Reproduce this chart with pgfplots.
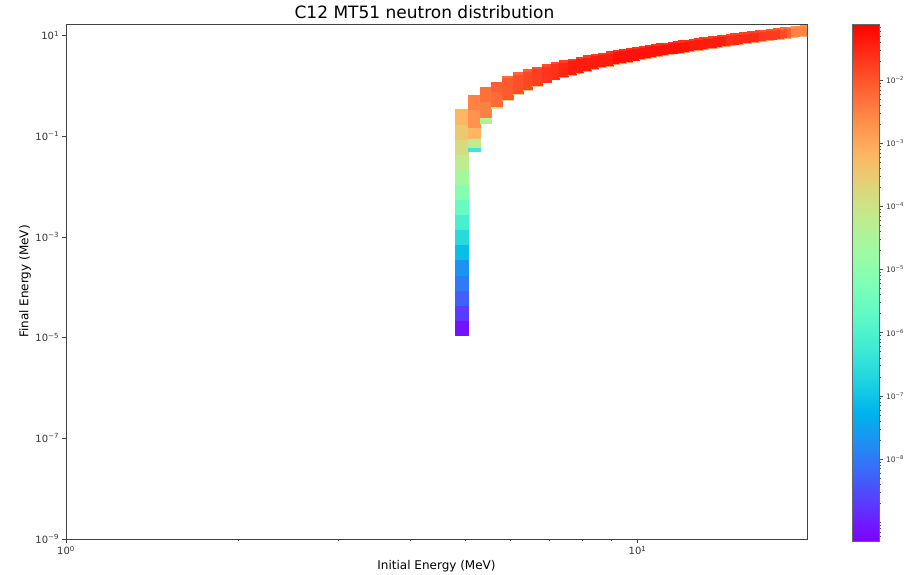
\documentclass[border=0pt]{standalone}
\usepackage{pgfplots}
\pgfplotsset{compat=1.18}
\usepackage{fontspec}
\setmainfont{DejaVu Sans}
\pgfplotsset{colormap={mplrainbow}{rgb=(0.5,0,1) rgb=(0.375,0.195,0.995) rgb=(0.25,0.383,0.981) rgb=(0.125,0.556,0.957) rgb=(0,0.707,0.924) rgb=(0.125,0.831,0.882) rgb=(0.25,0.924,0.831) rgb=(0.375,0.981,0.773) rgb=(0.5,1,0.707) rgb=(0.625,0.981,0.634) rgb=(0.75,0.924,0.556) rgb=(0.875,0.831,0.471) rgb=(1,0.707,0.383) rgb=(1,0.556,0.290) rgb=(1,0.383,0.195) rgb=(1,0.195,0.098) rgb=(1,0,0)}}
\newcommand{\tp}[1]{10\textsuperscript{#1}}
\begin{document}
\begin{tikzpicture}
\useasboundingbox (-66pt,-35pt) rectangle (848pt,539pt);
\begin{axis}[
  at={(0,0)}, anchor=south west, scale only axis, width=741pt, height=515pt,
  xmode=log, ymode=log, xmin=1, xmax=19.8, ymin=1e-9, ymax=17,
  colormap name=mplrainbow, point meta min=-9.3, point meta max=-1.11,
  xtick={1,10}, xticklabels={\tp{0},\tp{1}}, minor xtick={2,3,4,5,6,7,8,9},
  ytick={1e-9,1e-7,1e-5,1e-3,1e-1,10},
  yticklabels={\tp{−9},\tp{−7},\tp{−5},\tp{−3},\tp{−1},\tp{1}},
  tick align=outside, xtick pos=bottom, ytick pos=left,
  major tick length=3.5pt, minor tick length=2pt,
  axis line style={black!75, line width=0.8pt},
  every tick/.style={black!75, line width=0.6pt},
  ticklabel style={font=\fontsize{10}{12}\selectfont, text=black!80},
  title={C12 MT51 neutron distribution},
  title style={font=\fontsize{17}{20}\selectfont, at={(axis description cs:0.5,1)}, anchor=south, yshift=-4pt, xshift=-12pt},
  xlabel={Initial Energy (MeV)},
  xlabel style={font=\fontsize{12}{14}\selectfont, at={(axis description cs:0.5,-0.0525)}, anchor=center},
  ylabel={Final Energy (MeV)},
  ylabel style={font=\fontsize{12}{14}\selectfont, at={(axis description cs:-0.0553,0.5)}, anchor=center},
  colorbar,
  colorbar/width=27pt,
  colorbar style={at={(parent axis.north east)}, anchor=north west, xshift=36.5pt,
    scale only axis, width=27pt, height=517pt,
    ytick={-8,-7,-6,-5,-4,-3,-2},
    yticklabels={\tp{−8},\tp{−7},\tp{−6},\tp{−5},\tp{−4},\tp{−3},\tp{−2}},
    minor ytick={-9.222,-9.155,-9.097,-9.046,-9,
      -8.699,-8.523,-8.398,-8.301,-8.222,-8.155,-8.097,-8.046,
      -7.699,-7.523,-7.398,-7.301,-7.222,-7.155,-7.097,-7.046,
      -6.699,-6.523,-6.398,-6.301,-6.222,-6.155,-6.097,-6.046,
      -5.699,-5.523,-5.398,-5.301,-5.222,-5.155,-5.097,-5.046,
      -4.699,-4.523,-4.398,-4.301,-4.222,-4.155,-4.097,-4.046,
      -3.699,-3.523,-3.398,-3.301,-3.222,-3.155,-3.097,-3.046,
      -2.699,-2.523,-2.398,-2.301,-2.222,-2.155,-2.097,-2.046,
      -1.699,-1.523,-1.398,-1.301,-1.222,-1.155},
    ytick pos=right, yticklabel pos=right, tick align=outside,
    major tick length=3.5pt, minor tick length=2pt,
    axis line style={black!60, line width=0.6pt},
    every tick/.style={black!70, line width=0.5pt},
    ticklabel style={font=\fontsize{7.5}{9}\selectfont, text=black!80}},
]
\addplot[patch, patch type=rectangle, shader=flat, point meta=explicit]
table[row sep=\\, meta=c] {
x y c\\
4.80 1.122e-5 -9.1\\ 5.05 1.122e-5 -9.1\\ 5.05 2.239e-5 -9.1\\ 4.80 2.239e-5 -9.1\\
4.80 2.239e-5 -8.7\\ 5.05 2.239e-5 -8.7\\ 5.05 4.467e-5 -8.7\\ 4.80 4.467e-5 -8.7\\
4.80 4.467e-5 -8.3\\ 5.05 4.467e-5 -8.3\\ 5.05 8.913e-5 -8.3\\ 4.80 8.913e-5 -8.3\\
4.80 8.913e-5 -8.0\\ 5.05 8.913e-5 -8.0\\ 5.05 1.778e-4 -8.0\\ 4.80 1.778e-4 -8.0\\
4.80 1.778e-4 -7.7\\ 5.05 1.778e-4 -7.7\\ 5.05 3.548e-4 -7.7\\ 4.80 3.548e-4 -7.7\\
4.80 3.548e-4 -7.1\\ 5.05 3.548e-4 -7.1\\ 5.05 7.079e-4 -7.1\\ 4.80 7.079e-4 -7.1\\
4.80 7.079e-4 -6.6\\ 5.05 7.079e-4 -6.6\\ 5.05 1.413e-3 -6.6\\ 4.80 1.413e-3 -6.6\\
4.80 1.413e-3 -6.1\\ 5.05 1.413e-3 -6.1\\ 5.05 2.818e-3 -6.1\\ 4.80 2.818e-3 -6.1\\
4.80 2.818e-3 -5.6\\ 5.05 2.818e-3 -5.6\\ 5.05 5.623e-3 -5.6\\ 4.80 5.623e-3 -5.6\\
4.80 5.623e-3 -5.1\\ 5.05 5.623e-3 -5.1\\ 5.05 1.122e-2 -5.1\\ 4.80 1.122e-2 -5.1\\
4.80 1.122e-2 -4.6\\ 5.05 1.122e-2 -4.6\\ 5.05 2.239e-2 -4.6\\ 4.80 2.239e-2 -4.6\\
4.80 2.239e-2 -4.2\\ 5.05 2.239e-2 -4.2\\ 5.05 4.467e-2 -4.2\\ 4.80 4.467e-2 -4.2\\
4.80 4.467e-2 -3.8\\ 5.05 4.467e-2 -3.8\\ 5.05 8.913e-2 -3.8\\ 4.80 8.913e-2 -3.8\\
4.80 8.913e-2 -3.5\\ 5.05 8.913e-2 -3.5\\ 5.05 0.1778 -3.5\\ 4.80 0.1778 -3.5\\
4.80 0.1778 -3.2\\ 5.05 0.1778 -3.2\\ 5.05 0.339 -3.2\\ 4.80 0.339 -3.2\\
5.05 0.050 -6.3\\ 5.30 0.050 -6.3\\ 5.30 0.060 -6.3\\ 5.05 0.060 -6.3\\
5.05 0.060 -4.2\\ 5.30 0.060 -4.2\\ 5.30 0.090 -4.2\\ 5.05 0.090 -4.2\\
5.05 0.090 -3.2\\ 5.30 0.090 -3.2\\ 5.30 0.150 -3.2\\ 5.05 0.150 -3.2\\
5.05 0.150 -2.7\\ 5.30 0.150 -2.7\\ 5.30 0.350 -2.7\\ 5.05 0.350 -2.7\\
5.05 0.350 -2.5\\ 5.30 0.350 -2.5\\ 5.30 0.660 -2.5\\ 5.05 0.660 -2.5\\
5.30 0.180 -4.4\\ 5.55 0.180 -4.4\\ 5.55 0.235 -4.4\\ 5.30 0.235 -4.4\\
5.30 0.235 -2.5\\ 5.55 0.235 -2.5\\ 5.55 0.500 -2.5\\ 5.30 0.500 -2.5\\
5.30 0.500 -2.3\\ 5.55 0.500 -2.3\\ 5.55 0.940 -2.3\\ 5.30 0.940 -2.3\\
5.55 0.356 -4.3\\ 5.80 0.356 -4.3\\ 5.80 0.390 -4.3\\ 5.55 0.390 -4.3\\
5.55 0.390 -2.25\\ 5.80 0.390 -2.25\\ 5.80 0.800 -2.25\\ 5.55 0.800 -2.25\\
5.55 0.800 -2.1\\ 5.80 0.800 -2.1\\ 5.80 1.200 -2.1\\ 5.55 1.200 -2.1\\
5.80 0.516 -3.8\\ 6.05 0.516 -3.8\\ 6.05 0.5375 -3.8\\ 5.80 0.5375 -3.8\\
5.80 0.5375 -2.05\\ 6.05 0.5375 -2.05\\ 6.05 1.481 -2.05\\ 5.80 1.481 -2.05\\
5.80 1.481 -2.3\\ 6.05 1.481 -2.3\\ 6.05 1.570 -2.3\\ 5.80 1.570 -2.3\\
6.05 0.675 -3.8\\ 6.30 0.675 -3.8\\ 6.30 0.7034 -3.8\\ 6.05 0.7034 -3.8\\
6.05 0.7034 -1.95\\ 6.30 0.7034 -1.95\\ 6.30 1.742 -1.95\\ 6.05 1.742 -1.95\\
6.05 1.742 -2.2\\ 6.30 1.742 -2.2\\ 6.30 1.847 -2.2\\ 6.05 1.847 -2.2\\
6.30 0.837 -3.6\\ 6.55 0.837 -3.6\\ 6.55 0.8718 -3.6\\ 6.30 0.8718 -3.6\\
6.30 0.8718 -1.85\\ 6.55 0.8718 -1.85\\ 6.55 2.001 -1.85\\ 6.30 2.001 -1.85\\
6.30 2.001 -2.1\\ 6.55 2.001 -2.1\\ 6.55 2.121 -2.1\\ 6.30 2.121 -2.1\\
6.55 1.000 -3.5\\ 6.80 1.000 -3.5\\ 6.80 1.042 -3.5\\ 6.55 1.042 -3.5\\
6.55 1.042 -1.75\\ 6.80 1.042 -1.75\\ 6.80 2.258 -1.75\\ 6.55 2.258 -1.75\\
6.55 2.258 -2.0\\ 6.80 2.258 -2.0\\ 6.80 2.394 -2.0\\ 6.55 2.394 -2.0\\
6.80 1.165 -3.2\\ 7.05 1.165 -3.2\\ 7.05 1.2135 -3.2\\ 6.80 1.2135 -3.2\\
6.80 1.2135 -1.65\\ 7.05 1.2135 -1.65\\ 7.05 2.515 -1.65\\ 6.80 2.515 -1.65\\
6.80 2.515 -1.9\\ 7.05 2.515 -1.9\\ 7.05 2.666 -1.9\\ 6.80 2.666 -1.9\\
7.05 1.331 -3.2\\ 7.30 1.331 -3.2\\ 7.30 1.386 -3.2\\ 7.05 1.386 -3.2\\
7.05 1.386 -1.6\\ 7.30 1.386 -1.6\\ 7.30 2.770 -1.6\\ 7.05 2.770 -1.6\\
7.05 2.770 -1.9\\ 7.30 2.770 -1.9\\ 7.30 2.937 -1.9\\ 7.05 2.937 -1.9\\
7.30 1.497 -3.0\\ 7.55 1.497 -3.0\\ 7.55 1.559 -3.0\\ 7.30 1.559 -3.0\\
7.30 1.559 -1.5\\ 7.55 1.559 -1.5\\ 7.55 3.025 -1.5\\ 7.30 3.025 -1.5\\
7.30 3.025 -1.8\\ 7.55 3.025 -1.8\\ 7.55 3.207 -1.8\\ 7.30 3.207 -1.8\\
7.55 1.664 -3.0\\ 7.80 1.664 -3.0\\ 7.80 1.7335 -3.0\\ 7.55 1.7335 -3.0\\
7.55 1.7335 -1.4\\ 7.80 1.7335 -1.4\\ 7.80 3.280 -1.4\\ 7.55 3.280 -1.4\\
7.55 3.280 -1.7\\ 7.80 3.280 -1.7\\ 7.80 3.476 -1.7\\ 7.55 3.476 -1.7\\
7.80 1.832 -3.0\\ 8.05 1.832 -3.0\\ 8.05 1.908 -3.0\\ 7.80 1.908 -3.0\\
7.80 1.908 -1.4\\ 8.05 1.908 -1.4\\ 8.05 3.534 -1.4\\ 7.80 3.534 -1.4\\
7.80 3.534 -1.7\\ 8.05 3.534 -1.7\\ 8.05 3.746 -1.7\\ 7.80 3.746 -1.7\\
8.05 2.000 -3.0\\ 8.30 2.000 -3.0\\ 8.30 2.083 -3.0\\ 8.05 2.083 -3.0\\
8.05 2.083 -1.4\\ 8.30 2.083 -1.4\\ 8.30 3.787 -1.4\\ 8.05 3.787 -1.4\\
8.05 3.787 -1.7\\ 8.30 3.787 -1.7\\ 8.30 4.014 -1.7\\ 8.05 4.014 -1.7\\
8.30 2.168 -3.0\\ 8.55 2.168 -3.0\\ 8.55 2.2585 -3.0\\ 8.30 2.2585 -3.0\\
8.30 2.2585 -1.4\\ 8.55 2.2585 -1.4\\ 8.55 4.040 -1.4\\ 8.30 4.040 -1.4\\
8.30 4.040 -1.7\\ 8.55 4.040 -1.7\\ 8.55 4.283 -1.7\\ 8.30 4.283 -1.7\\
8.55 2.337 -3.0\\ 8.80 2.337 -3.0\\ 8.80 2.434 -3.0\\ 8.55 2.434 -3.0\\
8.55 2.434 -1.4\\ 8.80 2.434 -1.4\\ 8.80 4.293 -1.4\\ 8.55 4.293 -1.4\\
8.55 4.293 -1.7\\ 8.80 4.293 -1.7\\ 8.80 4.551 -1.7\\ 8.55 4.551 -1.7\\
8.80 2.506 -3.0\\ 9.05 2.506 -3.0\\ 9.05 2.610 -3.0\\ 8.80 2.610 -3.0\\
8.80 2.610 -1.4\\ 9.05 2.610 -1.4\\ 9.05 4.546 -1.4\\ 8.80 4.546 -1.4\\
8.80 4.546 -1.7\\ 9.05 4.546 -1.7\\ 9.05 4.819 -1.7\\ 8.80 4.819 -1.7\\
9.05 2.675 -2.9\\ 9.30 2.675 -2.9\\ 9.30 2.787 -2.9\\ 9.05 2.787 -2.9\\
9.05 2.787 -1.3\\ 9.30 2.787 -1.3\\ 9.30 4.799 -1.3\\ 9.05 4.799 -1.3\\
9.05 4.799 -1.6\\ 9.30 4.799 -1.6\\ 9.30 5.086 -1.6\\ 9.05 5.086 -1.6\\
9.30 2.845 -2.9\\ 9.55 2.845 -2.9\\ 9.55 2.963 -2.9\\ 9.30 2.963 -2.9\\
9.30 2.963 -1.3\\ 9.55 2.963 -1.3\\ 9.55 5.051 -1.3\\ 9.30 5.051 -1.3\\
9.30 5.051 -1.6\\ 9.55 5.051 -1.6\\ 9.55 5.354 -1.6\\ 9.30 5.354 -1.6\\
9.55 3.014 -2.9\\ 9.80 3.014 -2.9\\ 9.80 3.140 -2.9\\ 9.55 3.140 -2.9\\
9.55 3.140 -1.3\\ 9.80 3.140 -1.3\\ 9.80 5.303 -1.3\\ 9.55 5.303 -1.3\\
9.55 5.303 -1.6\\ 9.80 5.303 -1.6\\ 9.80 5.621 -1.6\\ 9.55 5.621 -1.6\\
9.80 3.184 -2.9\\ 10.05 3.184 -2.9\\ 10.05 3.317 -2.9\\ 9.80 3.317 -2.9\\
9.80 3.317 -1.3\\ 10.05 3.317 -1.3\\ 10.05 5.555 -1.3\\ 9.80 5.555 -1.3\\
9.80 5.555 -1.6\\ 10.05 5.555 -1.6\\ 10.05 5.888 -1.6\\ 9.80 5.888 -1.6\\
10.05 3.354 -2.9\\ 10.30 3.354 -2.9\\ 10.30 3.494 -2.9\\ 10.05 3.494 -2.9\\
10.05 3.494 -1.3\\ 10.30 3.494 -1.3\\ 10.30 5.807 -1.3\\ 10.05 5.807 -1.3\\
10.05 5.807 -1.6\\ 10.30 5.807 -1.6\\ 10.30 6.155 -1.6\\ 10.05 6.155 -1.6\\
10.30 3.524 -2.9\\ 10.55 3.524 -2.9\\ 10.55 3.671 -2.9\\ 10.30 3.671 -2.9\\
10.30 3.671 -1.3\\ 10.55 3.671 -1.3\\ 10.55 6.058 -1.3\\ 10.30 6.058 -1.3\\
10.30 6.058 -1.6\\ 10.55 6.058 -1.6\\ 10.55 6.422 -1.6\\ 10.30 6.422 -1.6\\
10.55 3.694 -2.9\\ 10.80 3.694 -2.9\\ 10.80 3.848 -2.9\\ 10.55 3.848 -2.9\\
10.55 3.848 -1.3\\ 10.80 3.848 -1.3\\ 10.80 6.310 -1.3\\ 10.55 6.310 -1.3\\
10.55 6.310 -1.6\\ 10.80 6.310 -1.6\\ 10.80 6.689 -1.6\\ 10.55 6.689 -1.6\\
10.80 3.865 -2.9\\ 11.05 3.865 -2.9\\ 11.05 4.026 -2.9\\ 10.80 4.026 -2.9\\
10.80 4.026 -1.3\\ 11.05 4.026 -1.3\\ 11.05 6.562 -1.3\\ 10.80 6.562 -1.3\\
10.80 6.562 -1.6\\ 11.05 6.562 -1.6\\ 11.05 6.955 -1.6\\ 10.80 6.955 -1.6\\
11.05 4.035 -2.9\\ 11.30 4.035 -2.9\\ 11.30 4.203 -2.9\\ 11.05 4.203 -2.9\\
11.05 4.203 -1.3\\ 11.30 4.203 -1.3\\ 11.30 6.813 -1.3\\ 11.05 6.813 -1.3\\
11.05 6.813 -1.6\\ 11.30 6.813 -1.6\\ 11.30 7.222 -1.6\\ 11.05 7.222 -1.6\\
11.30 4.205 -2.9\\ 11.55 4.205 -2.9\\ 11.55 4.381 -2.9\\ 11.30 4.381 -2.9\\
11.30 4.381 -1.3\\ 11.55 4.381 -1.3\\ 11.55 7.064 -1.3\\ 11.30 7.064 -1.3\\
11.30 7.064 -1.6\\ 11.55 7.064 -1.6\\ 11.55 7.488 -1.6\\ 11.30 7.488 -1.6\\
11.55 4.376 -2.9\\ 11.80 4.376 -2.9\\ 11.80 4.558 -2.9\\ 11.55 4.558 -2.9\\
11.55 4.558 -1.3\\ 11.80 4.558 -1.3\\ 11.80 7.316 -1.3\\ 11.55 7.316 -1.3\\
11.55 7.316 -1.6\\ 11.80 7.316 -1.6\\ 11.80 7.755 -1.6\\ 11.55 7.755 -1.6\\
11.80 4.547 -2.9\\ 12.05 4.547 -2.9\\ 12.05 4.736 -2.9\\ 11.80 4.736 -2.9\\
11.80 4.736 -1.3\\ 12.05 4.736 -1.3\\ 12.05 7.567 -1.3\\ 11.80 7.567 -1.3\\
11.80 7.567 -1.6\\ 12.05 7.567 -1.6\\ 12.05 8.021 -1.6\\ 11.80 8.021 -1.6\\
12.05 4.717 -2.9\\ 12.30 4.717 -2.9\\ 12.30 4.914 -2.9\\ 12.05 4.914 -2.9\\
12.05 4.914 -1.3\\ 12.30 4.914 -1.3\\ 12.30 7.818 -1.3\\ 12.05 7.818 -1.3\\
12.05 7.818 -1.6\\ 12.30 7.818 -1.6\\ 12.30 8.287 -1.6\\ 12.05 8.287 -1.6\\
12.30 4.888 -2.9\\ 12.55 4.888 -2.9\\ 12.55 5.092 -2.9\\ 12.30 5.092 -2.9\\
12.30 5.092 -1.4\\ 12.55 5.092 -1.4\\ 12.55 8.069 -1.4\\ 12.30 8.069 -1.4\\
12.30 8.069 -1.7\\ 12.55 8.069 -1.7\\ 12.55 8.553 -1.7\\ 12.30 8.553 -1.7\\
12.55 5.059 -2.9\\ 12.80 5.059 -2.9\\ 12.80 5.270 -2.9\\ 12.55 5.270 -2.9\\
12.55 5.270 -1.4\\ 12.80 5.270 -1.4\\ 12.80 8.320 -1.4\\ 12.55 8.320 -1.4\\
12.55 8.320 -1.7\\ 12.80 8.320 -1.7\\ 12.80 8.819 -1.7\\ 12.55 8.819 -1.7\\
12.80 5.230 -2.9\\ 13.05 5.230 -2.9\\ 13.05 5.448 -2.9\\ 12.80 5.448 -2.9\\
12.80 5.448 -1.4\\ 13.05 5.448 -1.4\\ 13.05 8.571 -1.4\\ 12.80 8.571 -1.4\\
12.80 8.571 -1.7\\ 13.05 8.571 -1.7\\ 13.05 9.085 -1.7\\ 12.80 9.085 -1.7\\
13.05 5.401 -2.9\\ 13.30 5.401 -2.9\\ 13.30 5.626 -2.9\\ 13.05 5.626 -2.9\\
13.05 5.626 -1.4\\ 13.30 5.626 -1.4\\ 13.30 8.822 -1.4\\ 13.05 8.822 -1.4\\
13.05 8.822 -1.7\\ 13.30 8.822 -1.7\\ 13.30 9.351 -1.7\\ 13.05 9.351 -1.7\\
13.30 5.572 -2.9\\ 13.55 5.572 -2.9\\ 13.55 5.804 -2.9\\ 13.30 5.804 -2.9\\
13.30 5.804 -1.4\\ 13.55 5.804 -1.4\\ 13.55 9.073 -1.4\\ 13.30 9.073 -1.4\\
13.30 9.073 -1.7\\ 13.55 9.073 -1.7\\ 13.55 9.617 -1.7\\ 13.30 9.617 -1.7\\
13.55 5.743 -2.9\\ 13.80 5.743 -2.9\\ 13.80 5.982 -2.9\\ 13.55 5.982 -2.9\\
13.55 5.982 -1.4\\ 13.80 5.982 -1.4\\ 13.80 9.324 -1.4\\ 13.55 9.324 -1.4\\
13.55 9.324 -1.7\\ 13.80 9.324 -1.7\\ 13.80 9.883 -1.7\\ 13.55 9.883 -1.7\\
13.80 5.914 -2.9\\ 14.05 5.914 -2.9\\ 14.05 6.160 -2.9\\ 13.80 6.160 -2.9\\
13.80 6.160 -1.4\\ 14.05 6.160 -1.4\\ 14.05 9.574 -1.4\\ 13.80 9.574 -1.4\\
13.80 9.574 -1.7\\ 14.05 9.574 -1.7\\ 14.05 10.149 -1.7\\ 13.80 10.149 -1.7\\
14.05 6.085 -2.9\\ 14.30 6.085 -2.9\\ 14.30 6.338 -2.9\\ 14.05 6.338 -2.9\\
14.05 6.338 -1.4\\ 14.30 6.338 -1.4\\ 14.30 9.825 -1.4\\ 14.05 9.825 -1.4\\
14.05 9.825 -1.7\\ 14.30 9.825 -1.7\\ 14.30 10.415 -1.7\\ 14.05 10.415 -1.7\\
14.30 6.256 -2.9\\ 14.55 6.256 -2.9\\ 14.55 6.516 -2.9\\ 14.30 6.516 -2.9\\
14.30 6.516 -1.55\\ 14.55 6.516 -1.55\\ 14.55 10.076 -1.55\\ 14.30 10.076 -1.55\\
14.30 10.076 -1.8\\ 14.55 10.076 -1.8\\ 14.55 10.681 -1.8\\ 14.30 10.681 -1.8\\
14.55 6.427 -2.9\\ 14.80 6.427 -2.9\\ 14.80 6.695 -2.9\\ 14.55 6.695 -2.9\\
14.55 6.695 -1.55\\ 14.80 6.695 -1.55\\ 14.80 10.327 -1.55\\ 14.55 10.327 -1.55\\
14.55 10.327 -1.8\\ 14.80 10.327 -1.8\\ 14.80 10.946 -1.8\\ 14.55 10.946 -1.8\\
14.80 6.598 -2.9\\ 15.05 6.598 -2.9\\ 15.05 6.873 -2.9\\ 14.80 6.873 -2.9\\
14.80 6.873 -1.55\\ 15.05 6.873 -1.55\\ 15.05 10.577 -1.55\\ 14.80 10.577 -1.55\\
14.80 10.577 -1.8\\ 15.05 10.577 -1.8\\ 15.05 11.212 -1.8\\ 14.80 11.212 -1.8\\
15.05 6.769 -2.9\\ 15.30 6.769 -2.9\\ 15.30 7.051 -2.9\\ 15.05 7.051 -2.9\\
15.05 7.051 -1.55\\ 15.30 7.051 -1.55\\ 15.30 10.828 -1.55\\ 15.05 10.828 -1.55\\
15.05 10.828 -1.8\\ 15.30 10.828 -1.8\\ 15.30 11.478 -1.8\\ 15.05 11.478 -1.8\\
15.30 6.940 -2.9\\ 15.55 6.940 -2.9\\ 15.55 7.230 -2.9\\ 15.30 7.230 -2.9\\
15.30 7.230 -1.55\\ 15.55 7.230 -1.55\\ 15.55 11.078 -1.55\\ 15.30 11.078 -1.55\\
15.30 11.078 -1.8\\ 15.55 11.078 -1.8\\ 15.55 11.743 -1.8\\ 15.30 11.743 -1.8\\
15.55 7.112 -2.9\\ 15.80 7.112 -2.9\\ 15.80 7.408 -2.9\\ 15.55 7.408 -2.9\\
15.55 7.408 -1.55\\ 15.80 7.408 -1.55\\ 15.80 11.329 -1.55\\ 15.55 11.329 -1.55\\
15.55 11.329 -1.8\\ 15.80 11.329 -1.8\\ 15.80 12.009 -1.8\\ 15.55 12.009 -1.8\\
15.80 7.283 -2.9\\ 16.05 7.283 -2.9\\ 16.05 7.586 -2.9\\ 15.80 7.586 -2.9\\
15.80 7.586 -1.55\\ 16.05 7.586 -1.55\\ 16.05 11.580 -1.55\\ 15.80 11.580 -1.55\\
15.80 11.580 -1.8\\ 16.05 11.580 -1.8\\ 16.05 12.275 -1.8\\ 15.80 12.275 -1.8\\
16.05 7.454 -2.9\\ 16.30 7.454 -2.9\\ 16.30 7.765 -2.9\\ 16.05 7.765 -2.9\\
16.05 7.765 -1.55\\ 16.30 7.765 -1.55\\ 16.30 11.830 -1.55\\ 16.05 11.830 -1.55\\
16.05 11.830 -1.8\\ 16.30 11.830 -1.8\\ 16.30 12.540 -1.8\\ 16.05 12.540 -1.8\\
16.30 7.626 -2.9\\ 16.55 7.626 -2.9\\ 16.55 7.943 -2.9\\ 16.30 7.943 -2.9\\
16.30 7.943 -1.7\\ 16.55 7.943 -1.7\\ 16.55 12.081 -1.7\\ 16.30 12.081 -1.7\\
16.30 12.081 -2.0\\ 16.55 12.081 -2.0\\ 16.55 12.806 -2.0\\ 16.30 12.806 -2.0\\
16.55 7.797 -2.9\\ 16.80 7.797 -2.9\\ 16.80 8.122 -2.9\\ 16.55 8.122 -2.9\\
16.55 8.122 -1.7\\ 16.80 8.122 -1.7\\ 16.80 12.331 -1.7\\ 16.55 12.331 -1.7\\
16.55 12.331 -2.0\\ 16.80 12.331 -2.0\\ 16.80 13.071 -2.0\\ 16.55 13.071 -2.0\\
16.80 7.968 -2.9\\ 17.05 7.968 -2.9\\ 17.05 8.300 -2.9\\ 16.80 8.300 -2.9\\
16.80 8.300 -1.7\\ 17.05 8.300 -1.7\\ 17.05 12.582 -1.7\\ 16.80 12.582 -1.7\\
16.80 12.582 -2.0\\ 17.05 12.582 -2.0\\ 17.05 13.337 -2.0\\ 16.80 13.337 -2.0\\
17.05 8.140 -2.9\\ 17.30 8.140 -2.9\\ 17.30 8.479 -2.9\\ 17.05 8.479 -2.9\\
17.05 8.479 -1.7\\ 17.30 8.479 -1.7\\ 17.30 12.832 -1.7\\ 17.05 12.832 -1.7\\
17.05 12.832 -2.0\\ 17.30 12.832 -2.0\\ 17.30 13.602 -2.0\\ 17.05 13.602 -2.0\\
17.30 8.311 -2.9\\ 17.55 8.311 -2.9\\ 17.55 8.657 -2.9\\ 17.30 8.657 -2.9\\
17.30 8.657 -1.7\\ 17.55 8.657 -1.7\\ 17.55 13.083 -1.7\\ 17.30 13.083 -1.7\\
17.30 13.083 -2.0\\ 17.55 13.083 -2.0\\ 17.55 13.868 -2.0\\ 17.30 13.868 -2.0\\
17.55 8.482 -2.9\\ 17.80 8.482 -2.9\\ 17.80 8.836 -2.9\\ 17.55 8.836 -2.9\\
17.55 8.836 -1.7\\ 17.80 8.836 -1.7\\ 17.80 13.333 -1.7\\ 17.55 13.333 -1.7\\
17.55 13.333 -2.0\\ 17.80 13.333 -2.0\\ 17.80 14.133 -2.0\\ 17.55 14.133 -2.0\\
17.80 8.654 -3.0\\ 18.05 8.654 -3.0\\ 18.05 9.014 -3.0\\ 17.80 9.014 -3.0\\
17.80 9.014 -1.9\\ 18.05 9.014 -1.9\\ 18.05 13.584 -1.9\\ 17.80 13.584 -1.9\\
17.80 13.584 -2.2\\ 18.05 13.584 -2.2\\ 18.05 14.399 -2.2\\ 17.80 14.399 -2.2\\
18.05 8.825 -3.0\\ 18.30 8.825 -3.0\\ 18.30 9.193 -3.0\\ 18.05 9.193 -3.0\\
18.05 9.193 -1.9\\ 18.30 9.193 -1.9\\ 18.30 13.834 -1.9\\ 18.05 13.834 -1.9\\
18.05 13.834 -2.2\\ 18.30 13.834 -2.2\\ 18.30 14.664 -2.2\\ 18.05 14.664 -2.2\\
18.30 8.997 -3.0\\ 18.55 8.997 -3.0\\ 18.55 9.371 -3.0\\ 18.30 9.371 -3.0\\
18.30 9.371 -2.1\\ 18.55 9.371 -2.1\\ 18.55 14.085 -2.1\\ 18.30 14.085 -2.1\\
18.30 14.085 -2.4\\ 18.55 14.085 -2.4\\ 18.55 14.930 -2.4\\ 18.30 14.930 -2.4\\
18.55 9.168 -3.2\\ 18.80 9.168 -3.2\\ 18.80 9.550 -3.2\\ 18.55 9.550 -3.2\\
18.55 9.550 -2.5\\ 18.80 9.550 -2.5\\ 18.80 14.335 -2.5\\ 18.55 14.335 -2.5\\
18.55 14.335 -2.7\\ 18.80 14.335 -2.7\\ 18.80 15.195 -2.7\\ 18.55 15.195 -2.7\\
18.80 9.339 -3.2\\ 19.05 9.339 -3.2\\ 19.05 9.729 -3.2\\ 18.80 9.729 -3.2\\
18.80 9.729 -2.5\\ 19.05 9.729 -2.5\\ 19.05 14.585 -2.5\\ 18.80 14.585 -2.5\\
18.80 14.585 -2.7\\ 19.05 14.585 -2.7\\ 19.05 15.460 -2.7\\ 18.80 15.460 -2.7\\
19.05 9.511 -3.2\\ 19.30 9.511 -3.2\\ 19.30 9.907 -3.2\\ 19.05 9.907 -3.2\\
19.05 9.907 -2.5\\ 19.30 9.907 -2.5\\ 19.30 14.836 -2.5\\ 19.05 14.836 -2.5\\
19.05 14.836 -2.7\\ 19.30 14.836 -2.7\\ 19.30 15.726 -2.7\\ 19.05 15.726 -2.7\\
19.30 9.682 -3.2\\ 19.55 9.682 -3.2\\ 19.55 10.086 -3.2\\ 19.30 10.086 -3.2\\
19.30 10.086 -2.5\\ 19.55 10.086 -2.5\\ 19.55 15.086 -2.5\\ 19.30 15.086 -2.5\\
19.30 15.086 -2.7\\ 19.55 15.086 -2.7\\ 19.55 15.991 -2.7\\ 19.30 15.991 -2.7\\
19.55 9.854 -3.2\\ 19.80 9.854 -3.2\\ 19.80 10.265 -3.2\\ 19.55 10.265 -3.2\\
19.55 10.265 -2.5\\ 19.80 10.265 -2.5\\ 19.80 15.336 -2.5\\ 19.55 15.336 -2.5\\
19.55 15.336 -2.7\\ 19.80 15.336 -2.7\\ 19.80 16.256 -2.7\\ 19.55 16.256 -2.7\\
};
\end{axis}
\end{tikzpicture}
\end{document}
